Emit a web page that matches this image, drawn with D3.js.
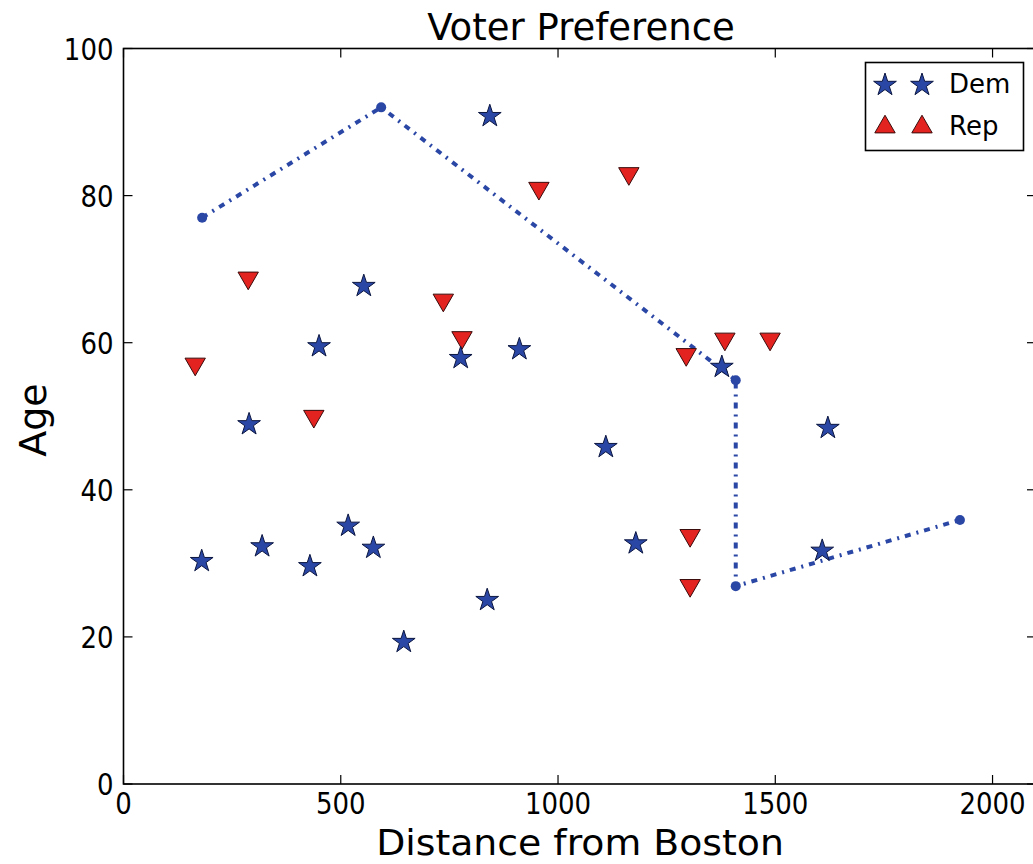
<!DOCTYPE html>
<html><head><meta charset="utf-8">
<script src="https://cdn.jsdelivr.net/npm/d3@7"></script>
<style>body{margin:0;background:#fff;} svg{display:block;font-family:"DejaVu Sans",sans-serif;}</style>
</head><body>
<script>
const demX = [843, 553, 776, 911, 450, 289, 1110, 1377, 1621, 180, 319, 517, 575, 429, 645, 837, 1179, 1608];
const demY = [90.8, 67.7, 57.9, 59.1, 59.5, 48.9, 45.8, 56.7, 48.4, 30.3, 32.3, 35.1, 32.1, 29.6, 19.3, 25.0, 32.7, 31.7];
const repX = [165, 287, 736, 779, 438, 956, 1163, 1295, 1384, 1488, 1304, 1304];
const repY = [57.1, 68.8, 65.8, 60.7, 50.0, 81.0, 83.0, 58.4, 60.5, 60.5, 33.8, 27.0];
const lineX = [181, 593, 1409, 1409, 1925];
const lineY = [77, 92, 54.9, 26.9, 35.9];
const xTicks = [0, 500, 1000, 1500, 2000];
const yTicks = [0, 20, 40, 60, 80, 100];
const seriesNames = ["Dem", "Rep"];

const W = 1033, H = 864;
const blue = "#2b47a6", red = "#e3231f";
const svg = d3.select("body").append("svg").attr("width", W).attr("height", H);
const x = d3.scaleLinear().domain([0, 2100]).range([123.5, 1036]);
const y = d3.scaleLinear().domain([0, 100]).range([784, 48.5]);
const L = 123.5, R = 1036, T = 48.5, B = 784;

const tickLen = 9, tickFont = 31, tickSX = 0.84;
const g = svg.append("g");
xTicks.forEach(t => {
  g.append("line").attr("x1", x(t)).attr("x2", x(t)).attr("y1", B).attr("y2", B - tickLen).attr("stroke", "#000").attr("stroke-width", 1.2);
  g.append("line").attr("x1", x(t)).attr("x2", x(t)).attr("y1", T).attr("y2", T + tickLen).attr("stroke", "#000").attr("stroke-width", 1.2);
  g.append("text").attr("transform", `translate(${x(t)},${B + 30}) scale(${tickSX},1)`)
    .attr("text-anchor", "middle").attr("font-size", tickFont).text(t);
});
yTicks.forEach(t => {
  g.append("line").attr("x1", L).attr("x2", L + tickLen).attr("y1", y(t)).attr("y2", y(t)).attr("stroke", "#000").attr("stroke-width", 1.2);
  g.append("line").attr("x1", R).attr("x2", R - tickLen).attr("y1", y(t)).attr("y2", y(t)).attr("stroke", "#000").attr("stroke-width", 1.2);
  g.append("text").attr("transform", `translate(${L - 10},${y(t) + 11}) scale(${tickSX},1)`)
    .attr("text-anchor", "end").attr("font-size", tickFont).text(t);
});

const lineData = lineX.map((d, i) => [d, lineY[i]]);
svg.append("path").datum(lineData)
  .attr("d", d3.line().x(d => x(d[0])).y(d => y(d[1])))
  .attr("fill", "none").attr("stroke", blue).attr("stroke-width", 4)
  .attr("stroke-dasharray", "6,6,2,6");
svg.selectAll(".ld").data(lineData).enter().append("circle")
  .attr("cx", d => x(d[0])).attr("cy", d => y(d[1])).attr("r", 5).attr("fill", blue);

const star = d3.symbol().type(d3.symbolStar).size(160);
const tri = d3.symbol().type(d3.symbolTriangle).size(180);

svg.selectAll(".rep").data(repX.map((d, i) => [d, repY[i]])).enter().append("path")
  .attr("d", tri)
  .attr("transform", d => `translate(${x(d[0])},${y(d[1])}) rotate(180)`)
  .attr("fill", red).attr("stroke", "#3a0c0c").attr("stroke-width", 1);
svg.selectAll(".dem").data(demX.map((d, i) => [d, demY[i]])).enter().append("path")
  .attr("d", star)
  .attr("transform", d => `translate(${x(d[0])},${y(d[1])})`)
  .attr("fill", blue).attr("stroke", "#0b1640").attr("stroke-width", 1);

svg.append("rect").attr("x", L).attr("y", T).attr("width", R - L).attr("height", B - T)
  .attr("fill", "none").attr("stroke", "#000").attr("stroke-width", 1.6);

const lg = svg.append("g");
lg.append("rect").attr("x", 865.5).attr("y", 62.5).attr("width", 158).attr("height", 88)
  .attr("fill", "#fff").attr("stroke", "#000").attr("stroke-width", 1.6);
[885, 922].forEach(cx => {
  lg.append("path").attr("d", star).attr("transform", `translate(${cx},85)`).attr("fill", blue).attr("stroke", "#0b1640").attr("stroke-width", 1);
  lg.append("path").attr("d", tri).attr("transform", `translate(${cx},127)`).attr("fill", red).attr("stroke", "#3a0c0c").attr("stroke-width", 1);
});
lg.append("text").attr("x", 949).attr("y", 93).attr("font-size", 26).text(seriesNames[0]);
lg.append("text").attr("x", 949).attr("y", 135).attr("font-size", 26).text(seriesNames[1]);

svg.append("text").attr("x", 581).attr("y", 40).attr("text-anchor", "middle").attr("font-size", 37).text("Voter Preference");
svg.append("text").attr("transform", "translate(580,855) scale(1.08,1)").attr("text-anchor", "middle").attr("font-size", 35).text("Distance from Boston");
svg.append("text").attr("transform", "translate(46,420) rotate(-90)").attr("text-anchor", "middle").attr("font-size", 38).text("Age");
</script>
</body></html>
